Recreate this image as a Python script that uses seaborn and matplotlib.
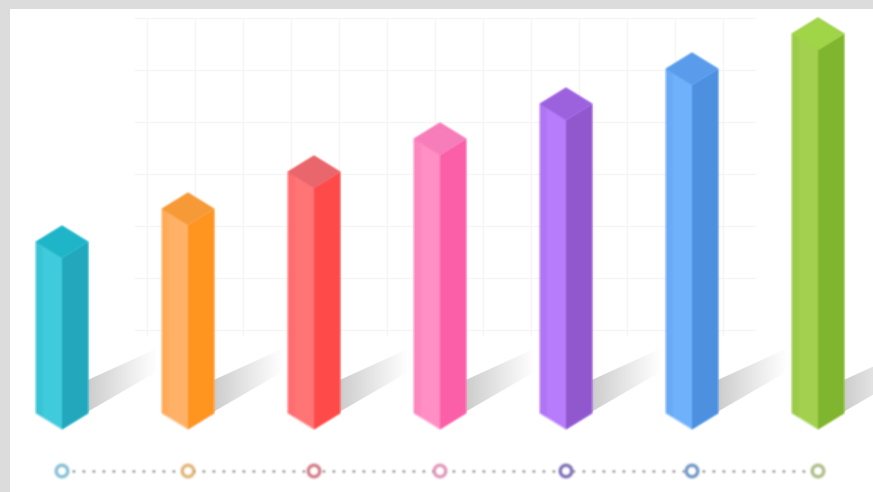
import numpy as np
import pandas as pd
import seaborn as sns
import matplotlib
matplotlib.use("Agg")
import matplotlib.pyplot as plt
from matplotlib.patches import Polygon
from matplotlib.colors import to_rgb

categories = ["A", "B", "C", "D", "E", "F", "G"]
values = [203, 236, 273, 306, 341, 376, 411]

light_colors = ["#3FCBDC", "#FFB268", "#FF7577", "#FF8FC4", "#B67CFB", "#70B2FB", "#A3D14F"]
dark_colors = ["#22A7BC", "#FF941F", "#FF4A4A", "#FB5FA8", "#9159CE", "#4D90E0", "#7FB52F"]
top_colors = ["#1FB5C8", "#F59A36", "#E8666C", "#F77DBA", "#9C62DE", "#5A9BEB", "#A0D548"]
ring_colors = ["#6FB5CC", "#DDA860", "#CC6470", "#DE84B0", "#6555AA", "#5585BC", "#A0B270"]

W, H = 873, 492
STEP, X0, Y0 = 126, 62, 429     # pixels per category, first centre, base line
px = lambda x: (x - X0) / STEP
py = lambda y: Y0 - y


def soft(image, dpi):
    """Small blur in premultiplied colour, giving marks the soft edges of the reference."""
    pad = 3
    out = np.pad(image.astype(float), ((pad, pad), (pad, pad), (0, 0)))
    out[..., :3] *= out[..., 3:]
    for axis in (0, 1):
        out = (np.roll(out, 1, axis) + out + np.roll(out, -1, axis)) / 3
    alpha = np.maximum(out[..., 3:], 1e-4)
    out[..., :3] = np.clip(out[..., :3] / alpha, 0, 1)
    return out, -pad, -pad


sns.set_theme(style="white")
fig = plt.figure(figsize=(W / 100, H / 100), dpi=100, facecolor="#DCDCDC")
ax = fig.add_axes([10 / W, 0, (W - 10) / W, (H - 9) / H], facecolor="white")

df = pd.DataFrame({"cat": categories, "val": values})
sns.barplot(data=df, x="cat", y="val", hue="cat", palette=light_colors, legend=False,
            width=52 / STEP, saturation=1, ax=ax, zorder=5, linewidth=0)
ax.set_xticks([])
ax.set_yticks([])
ax.set_xlabel("")
ax.set_ylabel("")
sns.despine(ax=ax, left=True, bottom=True)

# faint background grid
for gx in range(147, 760, 48):
    ax.plot([px(gx)] * 2, [py(18), py(335)], color="#F5F5F6", lw=1, zorder=1)
for gy in range(18, 340, 52):
    ax.plot([px(135), px(755)], [py(gy)] * 2, color="#F5F5F6", lw=1, zorder=1)

rise = 16
soft_marks = []
# horizontal fade for the cast shadows
fade = np.zeros((1, 64, 4))
fade[..., :3] = to_rgb("#CACACA")
fade[..., 3] = np.linspace(0.95, 0.0, 64) ** 1.1
for i, bar in enumerate(list(ax.patches)):
    l, w, v = bar.get_x(), bar.get_width(), bar.get_height()
    c, r = l + w / 2, l + w
    # cast shadow, fading away from the bar
    dx, d_low, d_high = 70 / STEP, 42, 33
    outline = Polygon([(r - 0.02, rise), (r + dx, rise + d_low), (r + dx, rise + 32 + d_high), (r - 0.02, rise + 32)],
                      closed=True, transform=ax.transData, fc="none", ec="none")
    ax.add_patch(outline)
    shade = ax.imshow(fade, extent=(r, r + dx, rise, rise + 32 + d_high), aspect="auto",
                      interpolation="bilinear", zorder=2)
    shade.set_clip_path(outline)
    # silhouette clips the plain bar
    hexagon = Polygon([(l, rise), (c, 0), (r, rise), (r, v - rise), (c, v), (l, v - rise)],
                      closed=True, transform=ax.transData, fc="none", ec=light_colors[i],
                      lw=1.5, alpha=0.3, zorder=4, joinstyle="round")
    ax.add_patch(hexagon)
    bar.set_clip_path(hexagon)
    # slightly deeper strip at the outer edge of the left face
    strip = Polygon([(l, rise), (l + w * 0.13, rise - 16 * 0.26), (l + w * 0.13, v - rise), (l, v - rise)],
                    closed=True, fc=dark_colors[i], alpha=0.18, ec="none", zorder=6)
    # right face and top face
    right = Polygon([(c, 0), (r, rise), (r, v - rise), (c, v - 2 * rise)],
                    closed=True, fc=dark_colors[i], ec="none", zorder=6)
    top = Polygon([(l, v - rise), (c, v), (r, v - rise), (c, v - 2 * rise)],
                  closed=True, fc=top_colors[i], ec="none", zorder=7)
    for patch in (strip, right, top):
        ax.add_patch(patch)
    soft_marks += [bar, hexagon, strip, right, top]

# dotted time line with rings
centers = np.arange(len(categories))
line_y = py(471)
dots, = ax.plot([centers[0], centers[-1]], [line_y, line_y], color="#ABABAB", lw=2,
                linestyle=(0, (1.0, 2.6)), zorder=3)
sns.scatterplot(x=centers, y=[line_y] * len(centers), hue=categories, palette=ring_colors,
                legend=False, s=70, ax=ax, zorder=4)
rings = ax.collections[-1]
rings.set_facecolor("white")
rings.set_edgecolor(ring_colors)
rings.set_linewidth(2)

for artist in soft_marks + [dots, rings]:
    artist.set_agg_filter(soft)

ax.set_xlim(px(10), px(W))
ax.set_ylim(py(H), py(9))

fig.savefig("out.png", dpi=100, facecolor=fig.get_facecolor())
